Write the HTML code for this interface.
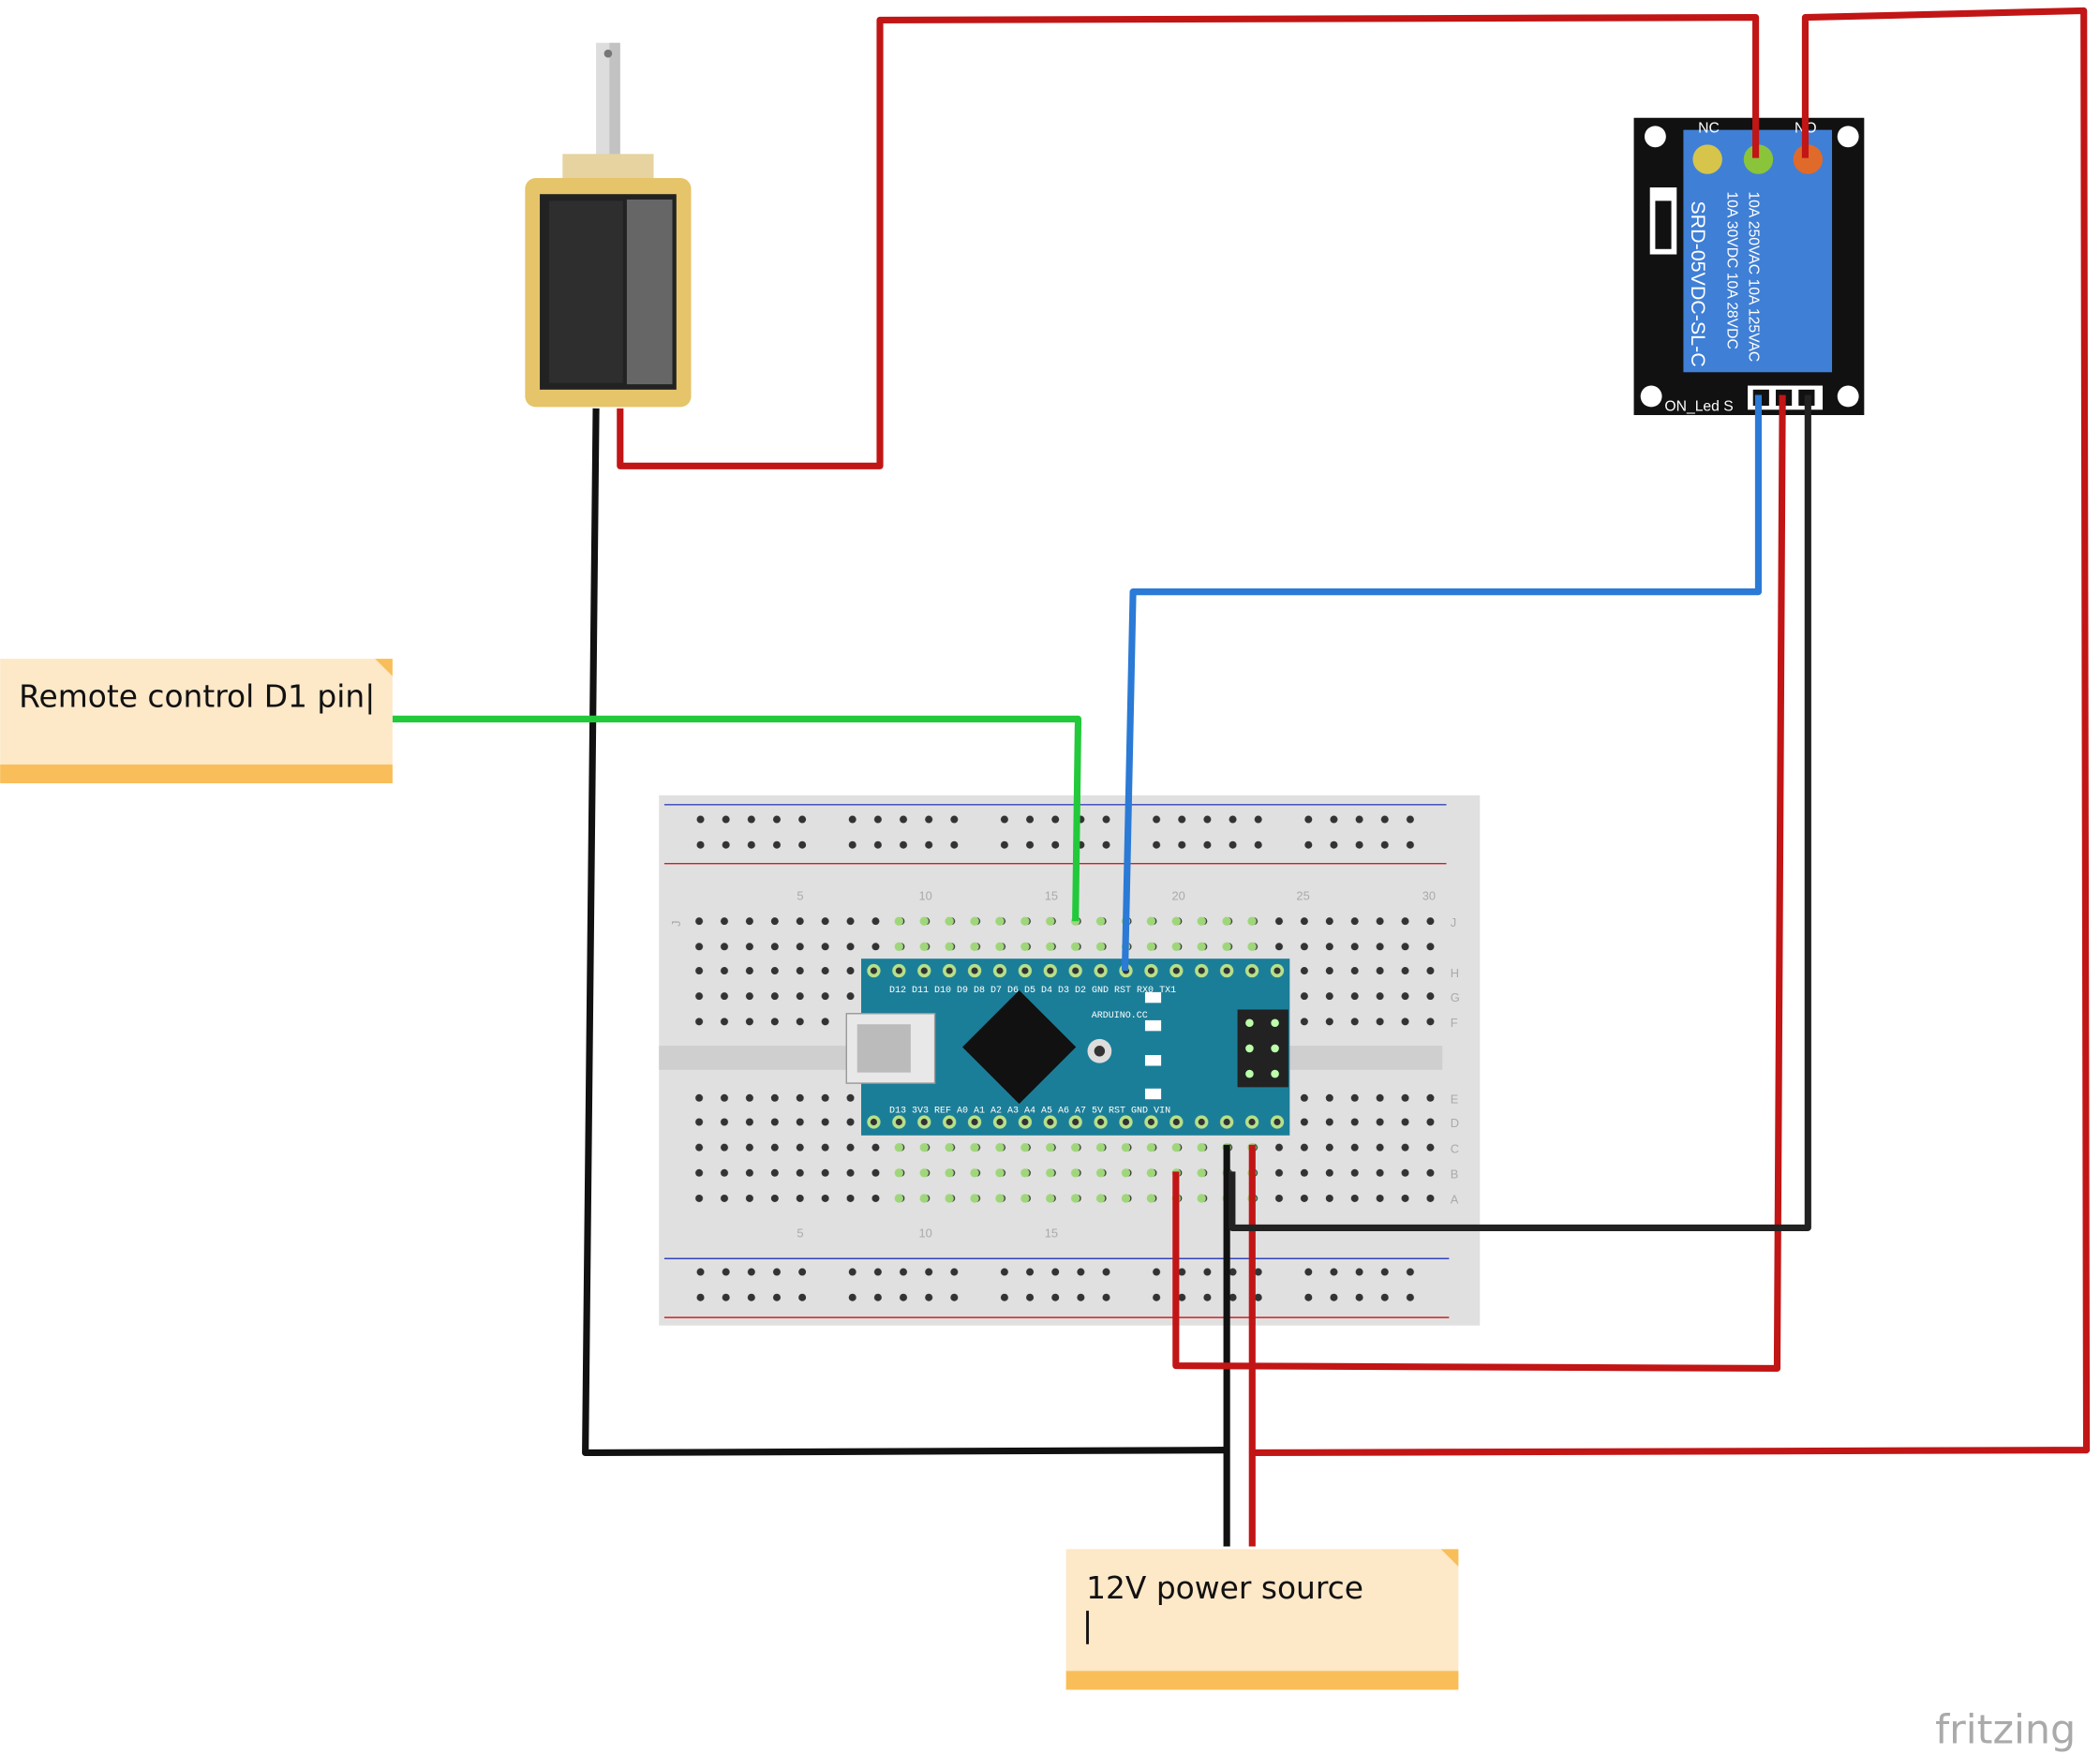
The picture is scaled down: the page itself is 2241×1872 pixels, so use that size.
<!DOCTYPE html>
<html><head><meta charset="utf-8"><style>html,body{margin:0;padding:0;background:#fff}svg{display:block}</style></head>
<body>
<svg width="2241" height="1872" viewBox="0 0 1568 1310" xmlns="http://www.w3.org/2000/svg" font-family="Liberation Sans, DejaVu Sans, sans-serif">
<defs>
<pattern id="bbh" x="512" y="0" width="18.83" height="1310" patternUnits="userSpaceOnUse">
<circle cx="10" cy="688" r="2.8" fill="#333"/><circle cx="10" cy="707" r="2.8" fill="#333"/><circle cx="10" cy="725" r="2.8" fill="#333"/><circle cx="10" cy="744" r="2.8" fill="#333"/><circle cx="10" cy="763" r="2.8" fill="#333"/>
<circle cx="10" cy="820" r="2.8" fill="#333"/><circle cx="10" cy="838" r="2.8" fill="#333"/><circle cx="10" cy="857" r="2.8" fill="#333"/><circle cx="10" cy="876" r="2.8" fill="#333"/><circle cx="10" cy="895" r="2.8" fill="#333"/>
</pattern>
<pattern id="rail" x="513" y="0" width="113.5" height="1310" patternUnits="userSpaceOnUse">
<g fill="#333"><circle cx="10" cy="612" r="2.8"/><circle cx="29" cy="612" r="2.8"/><circle cx="48" cy="612" r="2.8"/><circle cx="67" cy="612" r="2.8"/><circle cx="86" cy="612" r="2.8"/>
<circle cx="10" cy="631" r="2.8"/><circle cx="29" cy="631" r="2.8"/><circle cx="48" cy="631" r="2.8"/><circle cx="67" cy="631" r="2.8"/><circle cx="86" cy="631" r="2.8"/>
<circle cx="10" cy="950" r="2.8"/><circle cx="29" cy="950" r="2.8"/><circle cx="48" cy="950" r="2.8"/><circle cx="67" cy="950" r="2.8"/><circle cx="86" cy="950" r="2.8"/>
<circle cx="10" cy="969" r="2.8"/><circle cx="29" cy="969" r="2.8"/><circle cx="48" cy="969" r="2.8"/><circle cx="67" cy="969" r="2.8"/><circle cx="86" cy="969" r="2.8"/></g>
</pattern>
<pattern id="grn" x="643" y="0" width="18.83" height="1310" patternUnits="userSpaceOnUse">
<circle cx="9.4" cy="688" r="3.3" fill="#9fd67a"/><circle cx="9.4" cy="707" r="3.3" fill="#9fd67a"/>
<circle cx="9.4" cy="857" r="3.3" fill="#9fd67a"/><circle cx="9.4" cy="876" r="3.3" fill="#9fd67a"/><circle cx="9.4" cy="895" r="3.3" fill="#9fd67a"/>
</pattern>
<pattern id="apin" x="643" y="0" width="18.83" height="1310" patternUnits="userSpaceOnUse">
<circle cx="9.4" cy="725" r="5" fill="#b7e08a"/><circle cx="9.4" cy="725" r="2.5" fill="#333"/>
<circle cx="9.4" cy="838" r="5" fill="#b7e08a"/><circle cx="9.4" cy="838" r="2.5" fill="#333"/>
</pattern>
</defs>

<!-- breadboard -->
<rect x="492" y="594" width="613" height="396" fill="#e0e0e0"/>
<line x1="496" y1="601" x2="1080" y2="601" stroke="#3344bb" stroke-width="1"/>
<line x1="496" y1="645" x2="1080" y2="645" stroke="#cc2222" stroke-width="1"/>
<line x1="496" y1="940" x2="1082" y2="940" stroke="#3344bb" stroke-width="1"/>
<line x1="496" y1="984" x2="1082" y2="984" stroke="#cc2222" stroke-width="1"/>
<rect x="492" y="781" width="585" height="18" fill="#cfcfcf"/>
<rect x="513" y="600" width="570" height="45" fill="url(#rail)"/>
<rect x="513" y="940" width="570" height="45" fill="url(#rail)"/>
<rect x="512" y="678" width="565" height="225" fill="url(#bbh)"/>
<rect x="662" y="678" width="282" height="225" fill="url(#grn)"/>
<g font-size="9" fill="#aaa">
<text x="500" y="692" transform="rotate(-90 504 688)">J</text><text x="1083" y="692">J</text>
<text x="1083" y="730">H</text><text x="1083" y="748">G</text><text x="1083" y="767">F</text>
<text x="1083" y="824">E</text><text x="1083" y="842">D</text><text x="1083" y="861">C</text><text x="1083" y="880">B</text><text x="1083" y="899">A</text>
<text x="595" y="672">5</text><text x="686" y="672">10</text><text x="780" y="672">15</text><text x="875" y="672">20</text><text x="968" y="672">25</text><text x="1062" y="672">30</text>
<text x="595" y="924">5</text><text x="686" y="924">10</text><text x="780" y="924">15</text>
</g>

<!-- arduino -->
<rect x="643" y="716" width="320" height="132" fill="#1b7e98"/>
<rect x="643" y="716" width="320" height="132" fill="url(#apin)"/>
<rect x="632" y="757" width="66" height="52" fill="#e8e8e8" stroke="#999"/>
<rect x="640" y="765" width="40" height="36" fill="#bbb"/>
<rect x="731" y="752" width="60" height="60" fill="#111" transform="rotate(45 761 782)"/>
<circle cx="821" cy="785" r="9" fill="#ddd"/><circle cx="821" cy="785" r="4" fill="#333"/>
<rect x="924" y="754" width="38" height="58" fill="#222"/>
<g fill="#bfa" ><circle cx="933" cy="764" r="3"/><circle cx="952" cy="764" r="3"/><circle cx="933" cy="783" r="3"/><circle cx="952" cy="783" r="3"/><circle cx="933" cy="802" r="3"/><circle cx="952" cy="802" r="3"/></g>
<g fill="#fff"><rect x="855" y="741" width="12" height="8"/><rect x="855" y="762" width="12" height="8"/><rect x="855" y="788" width="12" height="8"/><rect x="855" y="813" width="12" height="8"/></g>
<g font-size="7" fill="#fff" font-family="Liberation Mono, monospace">
<text x="664" y="741">D12 D11 D10 D9  D8  D7  D6  D5  D4  D3  D2  GND RST RX0 TX1</text>
<text x="664" y="831">D13 3V3 REF A0  A1  A2  A3  A4  A5  A6  A7  5V  RST GND VIN</text>
<text x="815" y="760">ARDUINO.CC</text>
</g>

<!-- solenoid -->
<rect x="445" y="32" width="18" height="85" fill="#ddd"/><rect x="455" y="32" width="8" height="85" fill="#c2c2c2"/>
<circle cx="454" cy="40" r="3" fill="#777"/>
<rect x="420" y="115" width="68" height="18" fill="#e6d3a0"/>
<rect x="392" y="133" width="124" height="171" rx="8" fill="#e5c46a"/>
<rect x="403" y="145" width="102" height="146" fill="#222"/>
<rect x="410" y="150" width="55" height="136" fill="#2e2e2e"/>
<rect x="468" y="149" width="34" height="138" fill="#666"/>

<!-- relay -->
<rect x="1220" y="88" width="172" height="222" fill="#111"/>
<rect x="1257" y="97" width="111" height="181" fill="#3f7fd6"/>
<circle cx="1236" cy="102" r="8" fill="#fff"/><circle cx="1380" cy="102" r="8" fill="#fff"/>
<circle cx="1233" cy="296" r="8" fill="#fff"/><circle cx="1380" cy="296" r="8" fill="#fff"/>
<circle cx="1275" cy="119" r="11" fill="#d6c54a"/><circle cx="1313" cy="119" r="11" fill="#8ac43a"/><circle cx="1350" cy="119" r="11" fill="#e06a2a"/>
<rect x="1232" y="140" width="20" height="50" fill="#fff"/><rect x="1236" y="150" width="12" height="36" fill="#111"/>
<rect x="1305" y="288" width="56" height="18" fill="#fff"/><rect x="1309" y="291" width="12" height="12" fill="#111"/><rect x="1326" y="291" width="12" height="12" fill="#111"/><rect x="1343" y="291" width="12" height="12" fill="#111"/>
<g fill="#fff" font-size="11">
<text x="1268" y="99">NC</text><text x="1340" y="99">NO</text>
<text x="1243" y="307">ON_Led  S</text>
<text x="1373" y="265" transform="rotate(-90 1384 215)" font-size="16">Keyes_SRly</text>
<text x="1263" y="150" transform="rotate(90 1263 150)" font-size="15">SRD-05VDC-SL-C</text>
<text x="1290" y="143" transform="rotate(90 1290 143)" font-size="11">10A 30VDC  10A 28VDC</text>
<text x="1306" y="143" transform="rotate(90 1306 143)" font-size="11">10A 250VAC 10A 125VAC</text>
</g>

<!-- wires -->
<g fill="none" stroke-linejoin="round" stroke-width="5">
<polyline stroke="#c21515" points="463,305 463,348 657,348 657,15 1311,13 1311,118"/>
<polyline stroke="#c21515" points="1348,118 1348,13 1556,8 1558,1083 935,1085 935,1155"/>
<polyline stroke="#c21515" points="935,855 935,1085"/>
<polyline stroke="#111" points="445,305 437,1085 916,1083"/>
<polyline stroke="#111" points="916,855 916,1155"/>
<polyline stroke="#2a7ad6" points="1313,295 1313,442 846,442 840,725"/>
<polyline stroke="#22c93a" points="293,537 805,537 803,688"/>
<polyline stroke="#c21515" points="1331,295 1327,1022 878,1020 878,875"/>
<polyline stroke="#222" points="1350,295 1350,917 920,917 920,875"/>
</g>

<!-- notes -->
<rect x="0" y="492" width="293" height="93" fill="#fde8c8"/>
<rect x="0" y="571" width="293" height="14" fill="#f9be59"/>
<polygon points="280,492 293,492 293,505" fill="#f9be59"/>
<text x="14" y="528" font-size="23" fill="#111" font-family="DejaVu Sans, sans-serif">Remote control D1 pin|</text>
<rect x="796" y="1157" width="293" height="105" fill="#fde8c8"/>
<rect x="796" y="1248" width="293" height="14" fill="#f9be59"/>
<polygon points="1076,1157 1089,1157 1089,1170" fill="#f9be59"/>
<text x="811" y="1194" font-size="23" fill="#111" font-family="DejaVu Sans, sans-serif">12V power source</text>
<line x1="812" y1="1203" x2="812" y2="1228" stroke="#111" stroke-width="2"/>

<text x="1445" y="1302" font-size="30" fill="#aaa" font-family="DejaVu Sans, sans-serif">fritzing</text>
</svg>
</body></html>
